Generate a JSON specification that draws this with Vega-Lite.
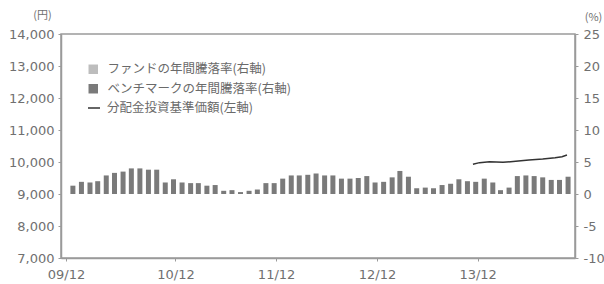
{
  "$schema": "https://vega.github.io/schema/vega-lite/v6.json",
  "width": 514,
  "height": 224,
  "autosize": "none",
  "padding": {"left": 61, "top": 34, "right": 29, "bottom": 26},
  "background": "white",
  "config": {
    "view": {"stroke": "#9a9a9a", "strokeWidth": 1.5},
    "font": "DejaVu Sans",
    "axis": {
      "labelColor": "#707070",
      "labelFontSize": 13,
      "labelFont": "DejaVu Sans",
      "domainColor": "#9a9a9a",
      "domainWidth": 1.5,
      "tickColor": "#9a9a9a",
      "tickSize": 3,
      "grid": false,
      "titleColor": "#707070",
      "titleFontWeight": "normal",
      "titleFont": "Noto Sans CJK JP",
      "titleFontSize": 11
    }
  },
  "datasets": {
    "bm": [
      {"d": "2009/12/01", "v": 1.3, "s": "ベンチマークの年間騰落率(右軸)"},
      {"d": "2010/01/01", "v": 1.9, "s": "ベンチマークの年間騰落率(右軸)"},
      {"d": "2010/02/01", "v": 1.8, "s": "ベンチマークの年間騰落率(右軸)"},
      {"d": "2010/03/01", "v": 2.0, "s": "ベンチマークの年間騰落率(右軸)"},
      {"d": "2010/04/01", "v": 2.9, "s": "ベンチマークの年間騰落率(右軸)"},
      {"d": "2010/05/01", "v": 3.3, "s": "ベンチマークの年間騰落率(右軸)"},
      {"d": "2010/06/01", "v": 3.5, "s": "ベンチマークの年間騰落率(右軸)"},
      {"d": "2010/07/01", "v": 4.0, "s": "ベンチマークの年間騰落率(右軸)"},
      {"d": "2010/08/01", "v": 4.0, "s": "ベンチマークの年間騰落率(右軸)"},
      {"d": "2010/09/01", "v": 3.8, "s": "ベンチマークの年間騰落率(右軸)"},
      {"d": "2010/10/01", "v": 3.8, "s": "ベンチマークの年間騰落率(右軸)"},
      {"d": "2010/11/01", "v": 1.8, "s": "ベンチマークの年間騰落率(右軸)"},
      {"d": "2010/12/01", "v": 2.3, "s": "ベンチマークの年間騰落率(右軸)"},
      {"d": "2011/01/01", "v": 1.8, "s": "ベンチマークの年間騰落率(右軸)"},
      {"d": "2011/02/01", "v": 1.7, "s": "ベンチマークの年間騰落率(右軸)"},
      {"d": "2011/03/01", "v": 1.7, "s": "ベンチマークの年間騰落率(右軸)"},
      {"d": "2011/04/01", "v": 1.3, "s": "ベンチマークの年間騰落率(右軸)"},
      {"d": "2011/05/01", "v": 1.4, "s": "ベンチマークの年間騰落率(右軸)"},
      {"d": "2011/06/01", "v": 0.5, "s": "ベンチマークの年間騰落率(右軸)"},
      {"d": "2011/07/01", "v": 0.6, "s": "ベンチマークの年間騰落率(右軸)"},
      {"d": "2011/08/01", "v": 0.3, "s": "ベンチマークの年間騰落率(右軸)"},
      {"d": "2011/09/01", "v": 0.5, "s": "ベンチマークの年間騰落率(右軸)"},
      {"d": "2011/10/01", "v": 0.7, "s": "ベンチマークの年間騰落率(右軸)"},
      {"d": "2011/11/01", "v": 1.7, "s": "ベンチマークの年間騰落率(右軸)"},
      {"d": "2011/12/01", "v": 1.7, "s": "ベンチマークの年間騰落率(右軸)"},
      {"d": "2012/01/01", "v": 2.4, "s": "ベンチマークの年間騰落率(右軸)"},
      {"d": "2012/02/01", "v": 2.9, "s": "ベンチマークの年間騰落率(右軸)"},
      {"d": "2012/03/01", "v": 2.9, "s": "ベンチマークの年間騰落率(右軸)"},
      {"d": "2012/04/01", "v": 3.0, "s": "ベンチマークの年間騰落率(右軸)"},
      {"d": "2012/05/01", "v": 3.2, "s": "ベンチマークの年間騰落率(右軸)"},
      {"d": "2012/06/01", "v": 2.9, "s": "ベンチマークの年間騰落率(右軸)"},
      {"d": "2012/07/01", "v": 2.9, "s": "ベンチマークの年間騰落率(右軸)"},
      {"d": "2012/08/01", "v": 2.4, "s": "ベンチマークの年間騰落率(右軸)"},
      {"d": "2012/09/01", "v": 2.4, "s": "ベンチマークの年間騰落率(右軸)"},
      {"d": "2012/10/01", "v": 2.5, "s": "ベンチマークの年間騰落率(右軸)"},
      {"d": "2012/11/01", "v": 2.8, "s": "ベンチマークの年間騰落率(右軸)"},
      {"d": "2012/12/01", "v": 1.8, "s": "ベンチマークの年間騰落率(右軸)"},
      {"d": "2013/01/01", "v": 1.9, "s": "ベンチマークの年間騰落率(右軸)"},
      {"d": "2013/02/01", "v": 2.6, "s": "ベンチマークの年間騰落率(右軸)"},
      {"d": "2013/03/01", "v": 3.6, "s": "ベンチマークの年間騰落率(右軸)"},
      {"d": "2013/04/01", "v": 2.7, "s": "ベンチマークの年間騰落率(右軸)"},
      {"d": "2013/05/01", "v": 0.9, "s": "ベンチマークの年間騰落率(右軸)"},
      {"d": "2013/06/01", "v": 1.0, "s": "ベンチマークの年間騰落率(右軸)"},
      {"d": "2013/07/01", "v": 0.9, "s": "ベンチマークの年間騰落率(右軸)"},
      {"d": "2013/08/01", "v": 1.4, "s": "ベンチマークの年間騰落率(右軸)"},
      {"d": "2013/09/01", "v": 1.6, "s": "ベンチマークの年間騰落率(右軸)"},
      {"d": "2013/10/01", "v": 2.3, "s": "ベンチマークの年間騰落率(右軸)"},
      {"d": "2013/11/01", "v": 2.0, "s": "ベンチマークの年間騰落率(右軸)"},
      {"d": "2013/12/01", "v": 1.9, "s": "ベンチマークの年間騰落率(右軸)"},
      {"d": "2014/01/01", "v": 2.4, "s": "ベンチマークの年間騰落率(右軸)"},
      {"d": "2014/02/01", "v": 1.8, "s": "ベンチマークの年間騰落率(右軸)"},
      {"d": "2014/03/01", "v": 0.6, "s": "ベンチマークの年間騰落率(右軸)"},
      {"d": "2014/04/01", "v": 1.0, "s": "ベンチマークの年間騰落率(右軸)"},
      {"d": "2014/05/01", "v": 2.8, "s": "ベンチマークの年間騰落率(右軸)"},
      {"d": "2014/06/01", "v": 2.9, "s": "ベンチマークの年間騰落率(右軸)"},
      {"d": "2014/07/01", "v": 2.8, "s": "ベンチマークの年間騰落率(右軸)"},
      {"d": "2014/08/01", "v": 2.6, "s": "ベンチマークの年間騰落率(右軸)"},
      {"d": "2014/09/01", "v": 2.2, "s": "ベンチマークの年間騰落率(右軸)"},
      {"d": "2014/10/01", "v": 2.2, "s": "ベンチマークの年間騰落率(右軸)"},
      {"d": "2014/11/01", "v": 2.7, "s": "ベンチマークの年間騰落率(右軸)"}
    ],
    "nav": [
      {"d": "2013/11/21", "nav": 9930},
      {"d": "2013/12/15", "nav": 9980},
      {"d": "2014/01/20", "nav": 10010},
      {"d": "2014/03/10", "nav": 9990},
      {"d": "2014/04/25", "nav": 10020},
      {"d": "2014/06/12", "nav": 10060},
      {"d": "2014/08/01", "nav": 10090},
      {"d": "2014/09/15", "nav": 10130},
      {"d": "2014/10/10", "nav": 10165},
      {"d": "2014/10/28", "nav": 10220}
    ]
  },
  "layer": [
    {
      "data": {"name": "bm"},
      "mark": {"type": "bar", "width": 5},
      "encoding": {
        "x": {
          "field": "d",
          "type": "temporal",
          "scale": {"domain": [{"year": 2009, "month": 11, "date": 6}, {"year": 2014, "month": 11, "date": 8}]},
          "axis": {
            "title": null,
            "values": [
              {"year": 2009, "month": 11, "date": 6},
              {"year": 2010, "month": 12, "date": 8},
              {"year": 2011, "month": 12, "date": 8},
              {"year": 2012, "month": 12, "date": 8},
              {"year": 2013, "month": 12, "date": 8}
            ],
            "labelExpr": "timeFormat(datum.value, '%y') + '/12'",
            "labelPadding": 7,
            "labelFlush": false,
            "labelOverlap": false
          }
        },
        "y": {
          "field": "v",
          "type": "quantitative",
          "scale": {"domain": [-10, 25], "nice": false, "zero": true},
          "axis": {
            "orient": "right",
            "values": [-10, -5, 0, 5, 10, 15, 20, 25],
            "labelExpr": "'' + datum.value",
            "labelPadding": 5,
            "title": "(%)",
            "titleAngle": 0,
            "titleAlign": "center",
            "titleBaseline": "middle",
            "titleX": 18,
            "titleY": -17
          }
        },
        "fill": {
          "field": "s",
          "type": "nominal",
          "scale": {
            "domain": ["ファンドの年間騰落率(右軸)", "ベンチマークの年間騰落率(右軸)"],
            "range": ["#bdbdbd", "#7a7a7a"]
          },
          "legend": {
            "title": null,
            "orient": "none",
            "legendX": 26,
            "legendY": 29,
            "symbolType": "square",
            "symbolSize": 90,
            "symbolStrokeWidth": 0,
            "labelFont": "Noto Sans CJK JP",
            "labelFontSize": 12.5,
            "labelColor": "#6a6a6a",
            "labelOffset": 8,
            "labelLimit": 400,
            "rowPadding": 6.5
          }
        }
      }
    },
    {
      "data": {"name": "nav"},
      "mark": {"type": "line", "strokeWidth": 1.5},
      "encoding": {
        "x": {"field": "d", "type": "temporal"},
        "y": {
          "field": "nav",
          "type": "quantitative",
          "scale": {"domain": [7000, 14000], "nice": false, "zero": false},
          "axis": {
            "orient": "left",
            "values": [7000, 8000, 9000, 10000, 11000, 12000, 13000, 14000],
            "labelExpr": "format(datum.value, ',')",
            "labelPadding": 4,
            "title": "(円)",
            "titleAngle": 0,
            "titleAlign": "center",
            "titleBaseline": "middle",
            "titleX": -19,
            "titleY": -19
          }
        },
        "stroke": {
          "datum": "分配金投資基準価額(左軸)",
          "scale": {"range": ["#333333"]},
          "legend": {
            "title": null,
            "orient": "none",
            "legendX": 26,
            "legendY": 67,
            "symbolType": "stroke",
            "symbolSize": 144,
            "symbolStrokeWidth": 1.5,
            "labelFont": "Noto Sans CJK JP",
            "labelFontSize": 12.5,
            "labelColor": "#6a6a6a",
            "labelOffset": 6,
            "labelLimit": 400
          }
        }
      }
    }
  ],
  "resolve": {"scale": {"y": "independent"}}
}
